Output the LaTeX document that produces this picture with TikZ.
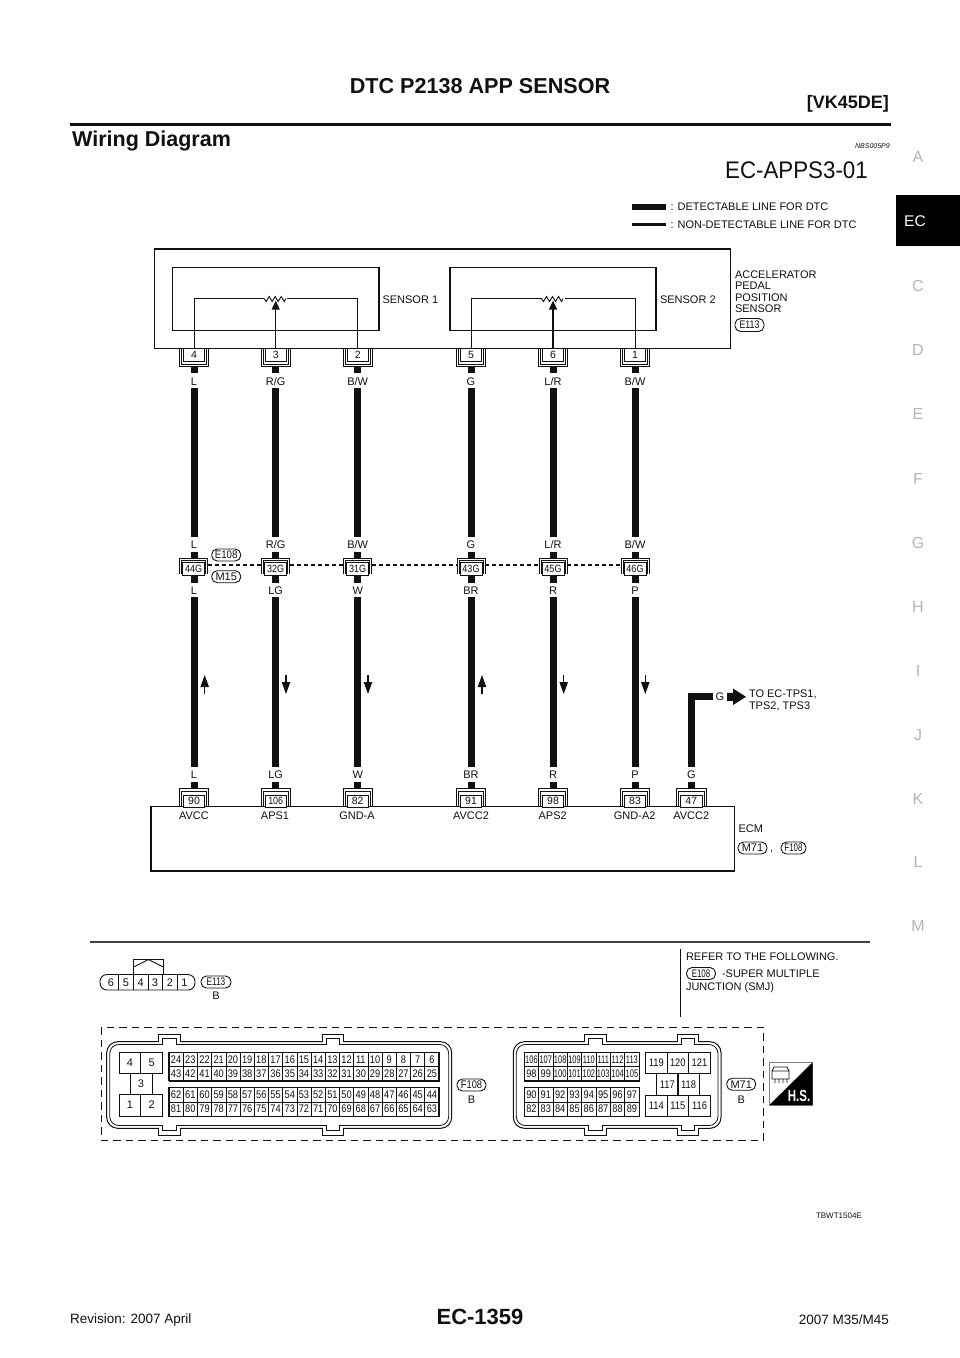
\documentclass[tikz,border=0pt]{standalone}
\usepackage{fontspec}
\setmainfont{Liberation Sans}
\usetikzlibrary{calc}
\definecolor{ink}{HTML}{111111}
\definecolor{tabgray}{HTML}{B4B4B4}
\newcommand{\fs}[1]{\fontsize{#1}{#1}\selectfont}
\newcommand{\nar}[2]{\scalebox{#1}[1]{#2}}
\tikzset{
  lbl/.style={inner sep=0pt,outer sep=0pt,text=ink,font=\fs{11},text height=7.9pt,text depth=0pt},
  wl/.style={lbl,anchor=center},
  ll/.style={lbl,anchor=west},
  tag/.style={lbl,anchor=center,draw=ink,line width=0.9pt,rounded corners=5.5pt,minimum width=29pt,minimum height=12pt},
  box/.style={draw=ink,line width=1.1pt},
  thinw/.style={draw=ink,line width=0.9pt},
  fatw/.style={draw=ink,line width=7pt},
  stubw/.style={draw=ink,line width=7pt},
  pinbox/.style={lbl,anchor=center,draw=ink,line width=0.9pt,fill=white,font=\fs{10.5},text height=7.5pt},
  cell/.style={lbl,anchor=center,draw=ink,line width=0.6pt,font=\fs{11},text height=7.9pt},
  bigcell/.style={lbl,anchor=center,draw=ink,line width=1pt,font=\fs{11},text height=7.9pt},
  sidel/.style={inner sep=0pt,text=tabgray,font=\fs{16},text height=11.5pt,text depth=0pt,anchor=center},
}
% pin below the sensor box: name, x, text
\newcommand{\pinU}[3]{%
  \draw[thinw] (#2-14.5,349)--(#2-14.5,366.5)--(#2+14.5,366.5)--(#2+14.5,349);
  \draw[ink,line width=0.7pt] (#2-12.3,349)--(#2-12.3,364)--(#2+12.3,364)--(#2+12.3,349);
  \node[pinbox,minimum width=21pt,minimum height=13pt] (#1) at (#2,355.2) {#3};
}
% junction pin
\newcommand{\pinJ}[3]{%
  \draw[thinw] (#2-14,574)--(#2-14,558.3)--(#2+14,558.3)--(#2+14,574);
  \draw[ink,line width=0.7pt] (#2-12,574)--(#2-12,560.3)--(#2+12,560.3)--(#2+12,574);
  \node[pinbox,minimum width=22pt,minimum height=13.5pt] (#1) at (#2,568.8) {\nar{0.86}{#3}};
}
% pin above ECM box
\newcommand{\pinE}[3]{%
  \draw[thinw] (#2-14.7,807)--(#2-14.7,788)--(#2+14.7,788)--(#2+14.7,807);
  \draw[ink,line width=0.7pt] (#2-12.6,807)--(#2-12.6,791)--(#2+12.6,791)--(#2+12.6,807);
  \node[pinbox,minimum width=21.5pt,minimum height=12pt] (#1) at (#2,801) {#3};
}
% connector body
\newcommand{\shell}[2]{%
  \draw[thinw,line width=1pt,rounded corners=11pt] (#1,1041.7) rectangle (#2,1128.3);
  \draw[ink,line width=0.8pt,rounded corners=9pt] (#1+3,1044.5) rectangle (#2-3,1125.5);
}
\newcommand{\tabs}[2]{%
  \fill[white] (#1+.3,1034.3) rectangle (#2-.3,1045);
  \draw[thinw] (#1,1041.7)--(#1,1034)--(#2,1034)--(#2,1041.7);
  \draw[ink,line width=0.8pt] (#1,1044.5)--(#1+4,1044.5)--(#1+4,1038.3)--(#2-4,1038.3)--(#2-4,1044.5)--(#2,1044.5);
  \fill[white] (#1+.3,1125) rectangle (#2-.3,1134.7);
  \draw[thinw] (#1,1128.3)--(#1,1135)--(#2,1135)--(#2,1128.3);
  \draw[ink,line width=0.8pt] (#1,1125.5)--(#1+4,1125.5)--(#1+4,1130.5)--(#2-4,1130.5)--(#2-4,1125.5)--(#2,1125.5);
}
\begin{document}
\begin{tikzpicture}[x=1pt,y=-1pt]
\useasboundingbox (0,0) rectangle (960,1358);
\fill[white] (0,0) rectangle (960,1358);

% ---------- page header
\node[inner sep=0pt,font=\bfseries\fs{21.6},text=ink,anchor=center] (title) at (480,86) {DTC P2138 APP SENSOR};
\node[inner sep=0pt,font=\bfseries\fs{18},text=ink,anchor=east] (engine) at (889,104) {[VK45DE]};
\draw[ink,line width=2.6pt] (70,124.5)--(891,124.5);
\node[inner sep=0pt,font=\bfseries\fs{21.5},text=ink,anchor=base west] (wd) at (72,146) {Wiring Diagram};
\node[inner sep=0pt,font=\itshape\fs{7},text=ink,anchor=east] (nbs) at (890,146) {NBS005P9};
\node[inner sep=0pt,font=\fs{24},text=ink,anchor=east] (ecapps) at (868,170.5) {\nar{0.93}{EC-APPS3-01}};

% ---------- side tabs
\node[sidel] (sA) at (918,157) {A};
\fill[black] (896,195) rectangle (960,246);
\node[inner sep=0pt,font=\fs{15.5},text=white,anchor=west,text height=11.2pt,text depth=0pt] (sEC) at (904,221) {EC};
\foreach \t/\y in {C/286,D/350,E/414,F/479,G/543,H/607,I/671,J/735,K/799,L/862,M/926}
  \node[sidel] (s\t) at (918,\y) {\t};

% ---------- legend
\draw[ink,line width=6pt] (632,207)--(666,207);
\draw[ink,line width=3pt] (632,224.5)--(666,224.5);
\node[ll] (lg1) at (670.5,207) {: DETECTABLE LINE FOR DTC};
\node[ll] (lg2) at (670.5,224.5) {: NON-DETECTABLE LINE FOR DTC};

% ---------- sensor unit
\draw[box] (154.7,249) rectangle (730.7,348.7);
\draw[box] (172.7,267.3) rectangle (379,330.7);
\draw[box] (450,267.3) rectangle (656,330.7);
\node[ll] (sen1) at (382.5,300) {SENSOR 1};
\node[ll] (sen2) at (660,299.5) {SENSOR 2};
\node[ll] (ac1) at (735,274.3) {ACCELERATOR};
\node[ll] (ac2) at (735,285.8) {PEDAL};
\node[ll] (ac3) at (735,297.2) {POSITION};
\node[ll] (ac4) at (735,308.3) {SENSOR};
\node[tag,minimum width=29pt,minimum height=13pt] (tE113a) at (749.5,325) {\nar{0.8}{E113}};

\pinU{p4}{194}{4}\pinU{p3}{275.7}{3}\pinU{p2}{357.7}{2}
\pinU{p5}{471}{5}\pinU{p6}{553}{6}\pinU{p1}{635}{1}

% potentiometers
\foreach \n/\a/\b/\c in {r1/p4/p3/p2,r2/p5/p6/p1}{
  \coordinate (\n) at ($(\b.north)+(0,-50)$);
  \draw[thinw] (\a.north) |- ($(\n)+(-11.5,0)$);
  \draw[thinw] (\c.north) |- ($(\n)+(11.5,0)$);
  \draw[thinw,line join=miter] ($(\n)+(-11.5,0)$) -- ++(2,2.8) -- ++(3,-5) -- ++(3,5) -- ++(3,-5) -- ++(3,5) -- ++(3,-5) -- ++(3,5) -- ++(1.5,-2.8);
  \fill[ink] ($(\n)+(0,2)$) -- ($(\n)+(-4.2,11)$) -- ($(\n)+(4.2,11)$) -- cycle;
  \draw[ink,line width=1.2pt] ($(\n)+(0,10)$) -- (\b.north);
}
\foreach \n in {p4,p3,p2,p5,p6,p1}
  \draw[stubw] (\n.south |- 0,366.5) -- (\n.south |- 0,373);

% ---------- junction connector
\pinJ{j44}{193.7}{44G}\pinJ{j32}{275.7}{32G}\pinJ{j31}{357.7}{31G}
\pinJ{j43}{471}{43G}\pinJ{j45}{553}{45G}\pinJ{j46}{635}{46G}
\foreach \a/\b in {j44/j32,j32/j31,j31/j43,j43/j45,j45/j46}
  \draw[ink,line width=1.2pt,dash pattern=on 4pt off 3pt] ($(\a.east |- 0,565)+(3.2,0)$) -- ($(\b.west |- 0,565)+(-3.2,0)$);
\node[tag,minimum width=29pt] (tE108) at (226.2,555) {\nar{0.88}{E108}};
\node[tag,minimum width=29pt] (tM15) at (226.2,576.7) {M15};

% ---------- ECM
\draw[box] (151,806.7) rectangle (734.3,871);
\pinE{e90}{194}{90}\pinE{e106}{275.7}{\nar{0.85}{106}}\pinE{e82}{357.7}{82}
\pinE{e91}{471}{91}\pinE{e98}{553}{98}\pinE{e83}{635}{83}\pinE{e47}{691.3}{47}
\node[wl] (fa) at (194,815.5) {AVCC};
\node[wl] (fb) at (275,815.5) {APS1};
\node[wl] (fc) at (357,815.5) {GND-A};
\node[wl] (fd) at (471,815.5) {AVCC2};
\node[wl] (fe) at (552.7,815.5) {APS2};
\node[wl] (ff) at (634.7,815.5) {GND-A2};
\node[wl] (fg) at (691.3,815.5) {AVCC2};
\node[ll] (ecm) at (738.5,829) {ECM};
\node[tag] (tM71) at (752.5,848) {M71};
\node[wl] (comma) at (771.7,848) {,};
\node[tag,minimum width=25pt] (tF108) at (793.5,848) {\nar{0.72}{F108}};

% ---------- wire runs
\foreach \p/\j/\e/\ta/\tb/\tc/\k in {
  p4/j44/e90/L/L/L/a,
  p3/j32/e106/R\slash G/LG/LG/b,
  p2/j31/e82/B\slash W/W/W/c,
  p5/j43/e91/G/BR/BR/d,
  p6/j45/e98/L\slash R/R/R/e,
  p1/j46/e83/B\slash W/P/P/f}{
  \node[wl] (u\k) at (\p.south |- 0,381.2) {\ta};
  \node[wl] (v\k) at (\p.south |- 0,544.7) {\ta};
  \node[wl] (w\k) at (\p.south |- 0,590.7) {\tb};
  \node[wl] (x\k) at (\p.south |- 0,775) {\tc};
  \draw[fatw] (\p.south |- 0,388) -- (\p.south |- 0,537);
  \draw[stubw] (\p.south |- 0,551.5) -- (\p.south |- 0,558.3);
  \draw[stubw] (\p.south |- 0,575.5) -- (\p.south |- 0,583);
  \draw[fatw] (\p.south |- 0,597) -- (\p.south |- 0,767);
  \draw[stubw] (\p.south |- 0,781.7) -- (\p.south |- 0,788);
}
% direction arrows
\foreach \x/\s in {204.7/1,286/-1,368/-1,482/1,563.7/-1,645.3/-1}{
  \pgfmathsetmacro{\ymid}{684.5}
  \draw[ink,line width=1.2pt] (\x,\ymid+9.5*\s) -- (\x,\ymid);
  \fill[ink] (\x,\ymid-9.5*\s) -- (\x-4.3,\ymid+2.5*\s) -- (\x+4.3,\ymid+2.5*\s) -- cycle;
}
% branch to TPS
\node[wl] (xg) at (691.3,775) {G};
\node[wl] (gb) at (720,697) {G};
\draw[fatw,line join=miter] (xg.north |- 0,767) -- (xg.north |- 0,696.8) -- ($(gb.west |- 0,696.8)+(-3,0)$);
\draw[stubw] (e47.north |- 0,781.7) -- (e47.north |- 0,788);
\fill[ink] (727,692.8) -- (733,692.8) -- (733,688.5) -- (746,696.8) -- (733,705) -- (733,700.8) -- (727,700.8) -- cycle;
\node[ll] (to1) at (749,694) {TO EC-TPS1,};
\node[ll] (to2) at (749,706) {TPS2, TPS3};

% ---------- separator
\draw[ink!80,line width=1.3pt] (90,942)--(870,942);
\draw[ink,line width=0.9pt] (680.5,949)--(680.5,1017);
\node[ll] (rf1) at (686,956.5) {REFER TO THE FOLLOWING.};
\node[tag,minimum width=29pt] (tE108b) at (701,973.5) {\nar{0.72}{E108}};
\node[ll] (rf2) at (722,973.5) {-SUPER MULTIPLE};
\node[ll] (rf3) at (686,987) {JUNCTION (SMJ)};

% ---------- E113 face
\draw[thinw,rounded corners=7pt] (100,974.5) rectangle (195,990);
\draw[thinw] (133.5,974.5) -- (133.5,959.5) -- (163.5,959.5) -- (163.5,974.5);
\draw[thinw] (133.5,967) -- (148.5,959.5) -- (163.5,967);
\foreach \x in {118.5,133.5,148,162.5,177} \draw[ink,line width=0.8pt] (\x,974.5)--(\x,990);
\draw[ink,line width=1.2pt] (133.5,974.5)--(133.5,990);
\foreach \t/\x in {6/111,5/126,4/140.7,3/155,2/170,1/184.5}
  \node[wl] (q\t) at (\x,982.2) {\t};
\node[tag,minimum width=30pt] (tE113b) at (216,982) {\nar{0.75}{E113}};
\node[wl] (bE) at (216,996) {B};

% ---------- dashed frame
\draw[ink,line width=1pt,dash pattern=on 7.5pt off 5pt] (101.7,1027.3) rectangle (763.3,1140.7);

% ---------- F108 face
\shell{106.7}{451.7}
\tabs{158.3}{180}\tabs{322.3}{343.3}
\node[bigcell,minimum width=21.4pt,minimum height=21pt] (a4) at (130,1062.8) {4};
\node[bigcell,minimum width=22pt,minimum height=21pt] (a5) at (151.7,1062.8) {5};
\node[bigcell,minimum width=22pt,minimum height=20.7pt] (a3) at (141,1083.7) {3};
\node[bigcell,minimum width=21.4pt,minimum height=22pt] (a1) at (130,1105) {1};
\node[bigcell,minimum width=22pt,minimum height=22pt] (a2) at (151.7,1105) {2};
\foreach \i in {0,...,18}{
  \pgfmathsetmacro{\cx}{169+14.21*(\i+0.5)}
  \pgfmathtruncatemacro{\na}{24-\i}
  \pgfmathtruncatemacro{\nb}{43-\i}
  \pgfmathtruncatemacro{\nc}{62-\i}
  \pgfmathtruncatemacro{\nd}{81-\i}
  \node[cell,minimum width=14.21pt,minimum height=14.2pt] (f\na) at (\cx,1059.5) {\nar{0.84}{\na}};
  \node[cell,minimum width=14.21pt,minimum height=14.2pt] (f\nb) at (\cx,1073.7) {\nar{0.84}{\nb}};
  \node[cell,minimum width=14.21pt,minimum height=14.2pt] (f\nc) at (\cx,1094.8) {\nar{0.84}{\nc}};
  \node[cell,minimum width=14.21pt,minimum height=14.2pt] (f\nd) at (\cx,1109) {\nar{0.84}{\nd}};
}
\draw[ink,line width=1.1pt] (169,1052.4) rectangle (439,1080.8);
\draw[ink,line width=1.1pt] (169,1087.7) rectangle (439,1116.1);
\node[tag,minimum width=29pt] (tF108b) at (471.5,1085) {\nar{0.85}{F108}};
\node[wl] (bF) at (471.5,1100) {B};

% ---------- M71 face
\shell{513.3}{721}
\tabs{584.3}{606.7}\tabs{677.3}{698.3}
\foreach \i in {0,...,7}{
  \pgfmathsetmacro{\cx}{524.3+14.35*(\i+0.5)}
  \pgfmathtruncatemacro{\na}{106+\i}
  \pgfmathtruncatemacro{\nb}{98+\i}
  \pgfmathtruncatemacro{\nc}{90+\i}
  \pgfmathtruncatemacro{\nd}{82+\i}
  \node[cell,minimum width=14.35pt,minimum height=14.2pt] (m\na) at (\cx,1059.5) {\nar{0.68}{\na}};
  \ifnum\nb>99
  \node[cell,minimum width=14.35pt,minimum height=14.2pt] (m\nb) at (\cx,1073.7) {\nar{0.68}{\nb}};
  \else
  \node[cell,minimum width=14.35pt,minimum height=14.2pt] (m\nb) at (\cx,1073.7) {\nar{0.84}{\nb}};
  \fi
  \node[cell,minimum width=14.35pt,minimum height=14.2pt] (m\nc) at (\cx,1094.8) {\nar{0.84}{\nc}};
  \node[cell,minimum width=14.35pt,minimum height=14.2pt] (m\nd) at (\cx,1109) {\nar{0.84}{\nd}};
}
\draw[ink,line width=1.1pt] (524.3,1052.4) rectangle (639.1,1080.8);
\draw[ink,line width=1.1pt] (524.3,1087.7) rectangle (639.1,1116.1);
\foreach \t/\x in {119/656.3,120/677.8,121/699.5}
  \node[bigcell,minimum width=21.6pt,minimum height=21.4pt] (m\t) at (\x,1063) {\nar{0.85}{\t}};
\foreach \t/\x in {117/667.3,118/688.6}
  \node[bigcell,minimum width=21.4pt,minimum height=21.3pt] (m\t) at (\x,1084.4) {\nar{0.85}{\t}};
\foreach \t/\x in {114/656.3,115/677.8,116/699.5}
  \node[bigcell,minimum width=21.6pt,minimum height=21pt] (m\t) at (\x,1105.5) {\nar{0.85}{\t}};
\node[tag,minimum width=29pt] (tM71b) at (741.2,1084.2) {M71};
\node[wl] (bM) at (741.2,1100) {B};

% ---------- H.S. badge
\draw[gray,line width=0.8pt] (769.3,1062.3) rectangle (812.7,1105);
\fill[black] (812.7,1062.3) -- (812.7,1105) -- (769.3,1105) -- cycle;
\node[inner sep=0pt,font=\bfseries\fs{16},text=white,anchor=center] (hs) at (799,1096.3) {\nar{0.72}{H.S.}};
\draw[ink,line width=0.7pt] (772,1071) -- (772,1079) -- (789,1079) -- (789,1071) -- cycle
  (772,1071) -- (774,1067) -- (787,1067) -- (789,1071)
  (775,1079) -- (775,1083) (779,1079) -- (779,1083) (783,1079) -- (783,1083) (787,1079) -- (787,1083);

% ---------- footer
\node[inner sep=0pt,font=\fs{8},text=ink,anchor=east] (tb) at (862,1216) {TBWT1504E};
\node[inner sep=0pt,font=\fs{13.5},text=ink,anchor=west] (rev) at (70,1320) {Revision: 2007 April};
\node[inner sep=0pt,font=\bfseries\fs{22},text=ink,anchor=center] (pg) at (480,1317) {EC-1359};
\node[inner sep=0pt,font=\fs{13.5},text=ink,anchor=east] (mdl) at (889,1320) {2007 M35/M45};
\end{tikzpicture}
\end{document}
